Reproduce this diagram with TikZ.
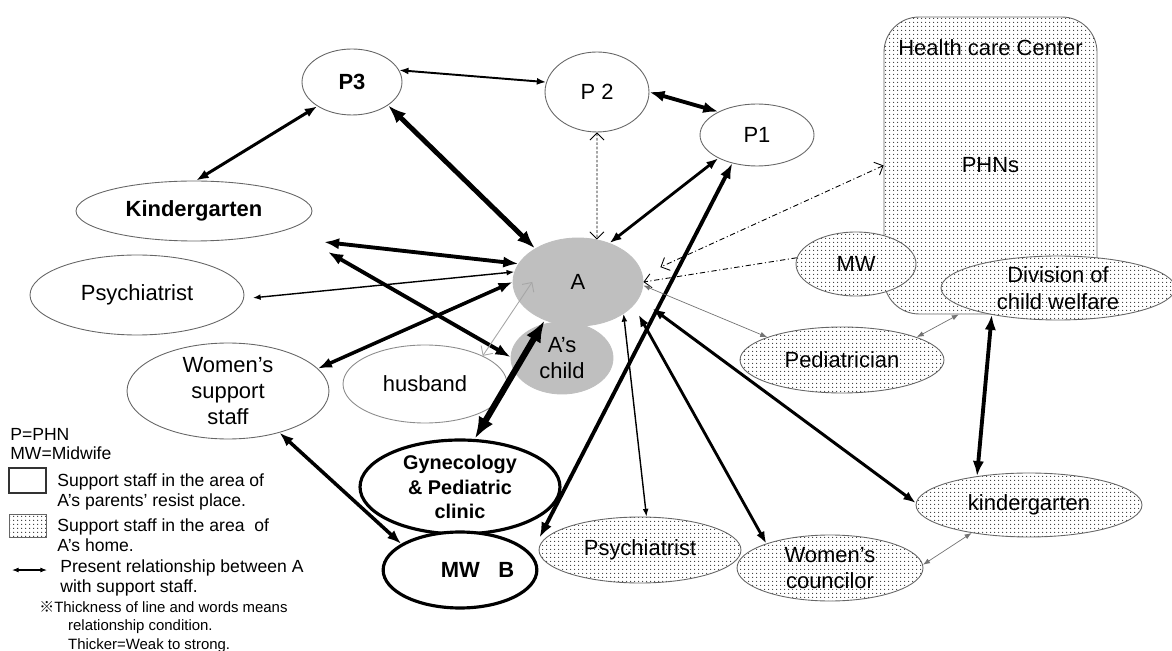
\documentclass[tikz,border=0pt]{standalone}
\usepackage{fontspec}
\setmainfont{Liberation Sans}
\newfontfamily\cjkfont{Noto Sans CJK JP}
\usetikzlibrary{shapes.geometric,arrows.meta,patterns,calc}
\pgfdeclarepatternformonly{homedots}{\pgfpointorigin}{\pgfpoint{2.3pt}{2.3pt}}{\pgfpoint{2.3pt}{2.3pt}}{\pgfpathcircle{\pgfpoint{1.15pt}{1.15pt}}{0.42pt}\pgfusepath{fill}}

\begin{document}
\begin{tikzpicture}[x=0.02cm,y=-0.02cm,>={Latex[length=2pt 3]},
oval/.style={ellipse, draw=black!60, line width=0.5pt, inner sep=0pt, align=center, font=\fontsize{12.5}{15}\selectfont},
staff/.style={oval, fill=white},
homestaff/.style={oval, preaction={fill=white}, pattern=homedots, pattern color=black!80},
client/.style={oval, draw=black!25, fill=black!25},
strongstaff/.style={oval, draw=black, line width=1.8pt, fill=white, font=\fontsize{11.3}{13.9}\selectfont\bfseries},
rel/.style={<->, line width=#1},
dotrel/.style={<->, >={Straight Barb[length=4pt]}, line width=0.5pt, dash pattern=on 1.5pt off 1pt},
dashrel/.style={>={Straight Barb[length=4pt]}, line width=0.5pt, dash pattern=on 3pt off 1.5pt on 0.6pt off 1.5pt},
thinrel/.style={<->, draw=black!55, line width=0.4pt, >={Latex[length=4pt]}},
husrel/.style={<->, draw=black!35, line width=0.5pt, >={Straight Barb[length=4pt]}},
legend/.style={anchor=west, inner sep=0pt, align=left, font=\fontsize{10}{11.3}\selectfont},
]
\useasboundingbox (0,0) rectangle (1172,651);

% area of A's home
\node (HCC) at (990.5,165.5)[homestaff, rectangle, rounded corners=0.7cm, minimum width=4.26cm, minimum height=5.94cm,
  label={[anchor=center, yshift=-0.62cm, font=\fontsize{12.5}{15}\selectfont]north:Health care Center}] {PHNs};
\node (MW) at (856,264)[homestaff, minimum width=2.40cm, minimum height=1.28cm] {MW};
\node (Div) at (1058,288)[homestaff, inner ysep=-2pt, minimum width=4.68cm, minimum height=1.28cm] {Division of\\child welfare};
\node (Ped) at (842,360)[homestaff, minimum width=4.08cm, minimum height=1.32cm] {Pediatrician};
\node (KgH) at (1029,505)[homestaff, minimum width=4.52cm, minimum height=1.28cm] {kindergarten};
\node (PsyH) at (640,550)[homestaff, minimum width=4.04cm, minimum height=1.32cm] {Psychiatrist};
\node (WC) at (830,568)[homestaff, inner ysep=-2pt, minimum width=3.72cm, minimum height=1.32cm] {Women’s\\councilor};

% area of A's parents' place
\node (P3) at (352,82)[staff, minimum width=2.00cm, minimum height=1.32cm] {\bfseries P3};
\node (P2) at (597,92)[staff, minimum width=2.08cm, minimum height=1.60cm] {P 2};
\node (P1) at (757,135)[staff, minimum width=2.28cm, minimum height=1.24cm] {P1};
\node (KgL) at (194,211)[staff, minimum width=4.72cm, minimum height=1.20cm] {\bfseries Kindergarten};
\node (PsyL) at (137,295)[staff, minimum width=4.28cm, minimum height=1.60cm] {Psychiatrist};
\node (WSS) at (228,391)[staff, inner ysep=-4pt, minimum width=4.04cm, minimum height=1.92cm] {Women’s\\support\\staff};
\node (Hus) at (425,384)[staff, draw=black!45, minimum width=3.28cm, minimum height=1.56cm] {husband};
\node (Gyn) at (460,487)[strongstaff, inner ysep=-2pt, minimum width=4.00cm, minimum height=1.88cm] {Gynecology\\\& Pediatric\\clinic};
\node (MWB) at (460,570)[strongstaff, minimum width=3.00cm, minimum height=1.52cm] {\fontsize{12.5}{15}\selectfont\hspace*{1.6em}MW\hspace{0.85em}B};

% A and child
\node (A) at (578,282)[client, minimum width=2.60cm, minimum height=1.76cm] {A};
\node (Ach) at (562,358)[client, minimum width=2.04cm, minimum height=1.44cm] {A’s\\child};

\coordinate (kgend) at (324,242);
\coordinate (chend) at (328,252);
\coordinate (Ain) at ($(A.center)!0.7!(A.west)$);

% relationships
\draw[rel=1.1pt] (P3.14) -- (P2.169);
\draw[rel=2.2pt] (P2.0) -- (P1.149);
\draw[rel=1.7pt] (P3.215) -- (KgL.86);
\draw[rel=2.8pt] (P3.327) -- (A.142);
\draw[dotrel] (P2.270) -- (A.66);
\draw[rel=1.6pt] (P1.211) -- (A.51);
\draw[rel=2.2pt, shorten >=0.36cm] (P1.229) -- (MWB.13);
\draw[dashrel, <->, shorten >=0.39cm] (HCC.west) -- (A.6);
\draw[dashrel, ->] (MW.174) -- (A.east);
\draw[thinrel] (A.357) -- (Ped.163);
\draw[thinrel] (Ped.17) -- (HCC.258);
\draw[rel=2.2pt] (Div.202) -- (KgH.151);
\draw[thinrel] (KgH.206) -- (WC.2);
\draw[rel=1.7pt, shorten <=0.34cm] (A.345) -- (KgH.179);
\draw[rel=1.6pt, shorten <=0.21cm] (A.337) -- (WC.159);
\draw[rel=0.8pt] (A.325) -- (PsyH.79);
\draw[rel=2.2pt] (kgend) -- (A.163);
\draw[rel=2.2pt] (chend) -- (Ach.179);
\draw[rel=0.8pt, shorten <=0.18cm] (PsyL.358) -- (A.171);
\draw[rel=2pt] (WSS.14) -- (A.180);
\draw[husrel] (Hus.26) -- (Ain);
\draw[rel=2pt] (WSS.321) -- (MWB.156);
\draw[rel=3.5pt] (A.229) -- (Gyn.73);

% legend
\node (legP) at (10,434)[legend] {P=PHN};
\node (legMW) at (10,453)[legend] {MW=Midwife};
\node (legwhite) at (27.5,480.5)[draw=black!80, line width=0.6pt, minimum width=0.74cm, minimum height=0.5cm, inner sep=0pt] {};
\node (legwhitetext) at (57,492)[legend] {Support staff in the area of\\A’s parents’ resist place.};
\node (legdots) at (27.5,525.5)[draw=black!60, line width=0.5pt, pattern=homedots, pattern color=black!80, minimum width=0.74cm, minimum height=0.46cm, inner sep=0pt] {};
\node (legdotstext) at (57,535)[legend] {Support staff in the area\ \ of\\A’s home.};
\coordinate (legl) at (12,570);
\coordinate (legr) at (47,570);
\draw[rel=0.6pt] (legl) -- (legr);
\node (legreltext) at (60,578)[legend] {Present relationship between A\\with support staff.};
\node (legnote) at (39,627)[legend, font=\fontsize{8.5}{10.5}\selectfont] {{\cjkfont ※}Thickness of line and words means\\\hspace*{16.4pt}relationship condition.\\\hspace*{16.4pt}Thicker=Weak to strong.};
\end{tikzpicture}
\end{document}
